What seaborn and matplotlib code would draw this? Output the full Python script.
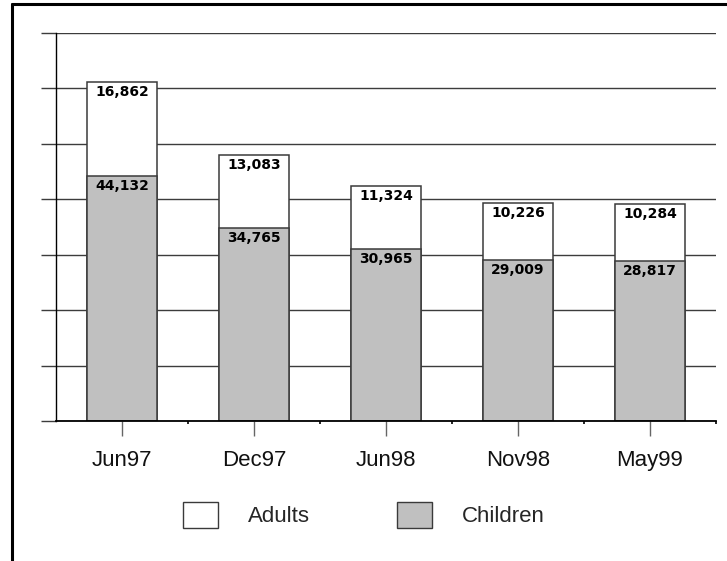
import matplotlib
matplotlib.use("Agg")
import matplotlib.pyplot as plt
from matplotlib.lines import Line2D
from matplotlib.patches import Patch
import pandas as pd
import seaborn as sns

# Survey periods and head counts
periods = ["Jun97", "Dec97", "Jun98", "Nov98", "May99"]
children = [44132, 34765, 30965, 29009, 28817]
adults = [16862, 13083, 11324, 10226, 10284]

sns.set_theme(style="white")
plt.rcParams["font.family"] = ["Liberation Sans", "DejaVu Sans"]

df = pd.DataFrame({"period": periods, "children": children, "adults": adults})
df["total"] = df["children"] + df["adults"]

fig = plt.figure(figsize=(7.27, 5.61), dpi=100)
ax = fig.add_axes([56 / 727, 1 - 421 / 561, (716 - 56) / 727, (421 - 32.5) / 561])

edge = "#3a3a3a"
bar_w = 0.525

# Stacked bars: full height in white (adults), children in grey on top of it
sns.barplot(data=df, x="period", y="total", order=periods, color="white",
            saturation=1, width=bar_w, edgecolor=edge, linewidth=1.1, ax=ax, zorder=3)
sns.barplot(data=df, x="period", y="children", order=periods, color="#C0C0C0",
            saturation=1, width=bar_w, edgecolor=edge, linewidth=1.1, ax=ax, zorder=4)

# Value labels at the top of each segment
label_kw = dict(textcoords="offset points", ha="center", va="top", fontsize=10,
                fontweight="bold", family=["DejaVu Sans"], color="black", zorder=6)
for i, (c, a) in enumerate(zip(children, adults)):
    ax.annotate(f"{a:,}", xy=(i, c + a), xytext=(0, -2.0), **label_kw)
    ax.annotate(f"{c:,}", xy=(i, c), xytext=(0, -2.0), **label_kw)

ax.set_ylim(0, 70000)
ax.set_xlim(-0.5, len(periods) - 0.5)
ax.set_yticks(range(0, 70001, 10000))
ax.set_yticklabels([])
ax.yaxis.grid(True, color="#3c3c3c", linewidth=1.0, zorder=0)
ax.xaxis.grid(False)
ax.set_axisbelow(True)
ax.set_xlabel("")
ax.set_ylabel("")

ax.tick_params(axis="y", which="major", left=True, length=10.8, width=1.0,
               color="#3c3c3c", direction="out")
ax.tick_params(axis="x", which="major", bottom=True, length=10.8, width=1.0,
               color="#666666", direction="out", pad=10, labelsize=16,
               labelcolor="#111111")
ax.set_xticks([i + 0.5 for i in range(len(periods))], minor=True)
ax.tick_params(axis="x", which="minor", bottom=True, length=2, width=1.2,
               color="black", direction="out")

for side in ["top", "right"]:
    ax.spines[side].set_visible(False)
ax.spines["left"].set_color("black")
ax.spines["left"].set_linewidth(1.0)
ax.spines["bottom"].set_color("black")
ax.spines["bottom"].set_linewidth(1.3)
ax.spines["bottom"].set_zorder(5)

# Legend under the plot
handles = [Patch(facecolor="white", edgecolor=edge, linewidth=1.0, label="Adults"),
           Patch(facecolor="#C0C0C0", edgecolor=edge, linewidth=1.0, label="Children")]
fig.legend(handles=handles, loc="center left", bbox_to_anchor=(183 / 727, 1 - 515 / 561),
           ncol=2, frameon=False, fontsize=16, handlelength=1.58, handleheight=1.4,
           handletextpad=1.36, columnspacing=3.9, borderpad=0, borderaxespad=0)

# Frame lines along the top and left of the figure
fig.add_artist(Line2D([11.5 / 727, 11.5 / 727], [0, 1 - 4 / 561], color="black",
                      linewidth=2.2, transform=fig.transFigure))
fig.add_artist(Line2D([11.5 / 727, 1], [1 - 4 / 561, 1 - 4 / 561], color="black",
                      linewidth=2.2, transform=fig.transFigure))

fig.savefig("out.png", dpi=100)
